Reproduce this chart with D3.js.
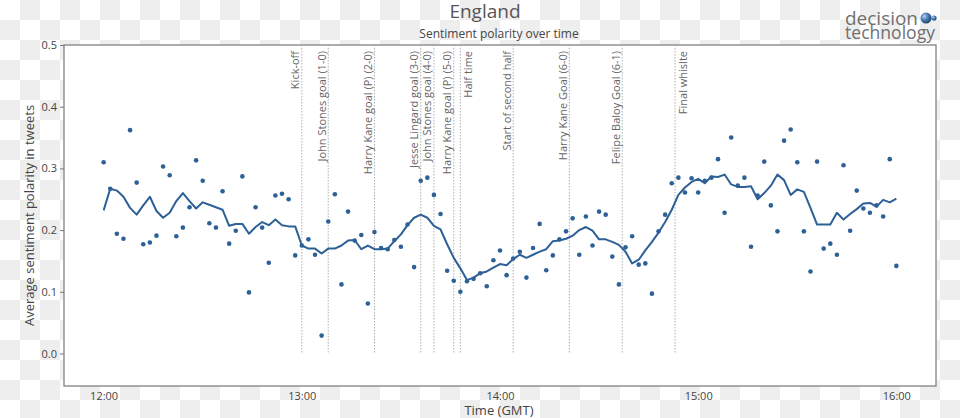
<!DOCTYPE html>
<html><head><meta charset="utf-8">
<script src="https://cdn.jsdelivr.net/npm/d3@7"></script>
<style>body{margin:0;background:#fff;} svg{display:block;} text{font-family:"Open Sans",sans-serif;}</style>
</head><body>
<svg id="chart" width="960" height="418"></svg>
<script>
const times = ("12:00 12:02 12:04 12:06 12:08 12:10 12:12 12:14 12:16 12:18 12:20 12:22 12:24 12:26 12:28 12:30 12:32 12:34 12:36 12:38 12:40 12:42 12:44 12:46 12:48 12:50 12:52 12:54 12:56 12:58 " +
  "13:00 13:02 13:04 13:06 13:08 13:10 13:12 13:14 13:16 13:18 13:20 13:22 13:24 13:26 13:28 13:30 13:32 13:34 13:36 13:38 13:40 13:42 13:44 13:46 13:48 13:50 13:52 13:54 13:56 13:58 " +
  "14:00 14:02 14:04 14:06 14:08 14:10 14:12 14:14 14:16 14:18 14:20 14:22 14:24 14:26 14:28 14:30 14:32 14:34 14:36 14:38 14:40 14:42 14:44 14:46 14:48 14:50 14:52 14:54 14:56 14:58 " +
  "15:00 15:02 15:04 15:06 15:08 15:10 15:12 15:14 15:16 15:18 15:20 15:22 15:24 15:26 15:28 15:30 15:32 15:34 15:36 15:38 15:40 15:42 15:44 15:46 15:48 15:50 15:52 15:54 15:56 15:58 16:00").split(" ");

const tweetSentiment = [
  0.310,0.267,0.194,0.186,0.362,0.277,0.177,0.180,0.191,0.303,
  0.289,0.190,0.204,0.237,0.313,0.280,0.211,0.204,0.263,0.178,
  0.199,0.287,0.099,0.237,0.204,0.147,0.256,0.259,0.250,0.159,
  0.175,0.185,0.160,0.029,0.214,0.258,0.112,0.230,0.183,0.192,
  0.081,0.197,0.171,0.169,0.184,0.173,0.209,0.140,0.280,0.285,
  0.257,0.226,0.134,0.118,0.100,0.117,0.121,0.130,0.109,0.151,
  0.167,0.127,0.154,0.165,0.123,0.171,0.210,0.135,0.159,0.185,
  0.198,0.219,0.160,0.222,0.175,0.230,0.225,0.157,0.112,0.172,
  0.190,0.144,0.146,0.097,0.198,0.225,0.276,0.285,0.261,0.284,
  0.261,0.280,0.285,0.315,0.228,0.350,0.272,0.285,0.173,0.256,
  0.311,0.240,0.198,0.345,0.363,0.310,0.198,0.133,0.311,0.170,
  0.178,0.160,0.305,0.199,0.264,0.235,0.228,0.240,0.222,0.315,
  0.142];

const rollingAverage = [
  0.232,0.267,0.264,0.254,0.236,0.225,0.240,0.254,0.231,0.220,
  0.228,0.247,0.260,0.247,0.235,0.245,0.241,0.237,0.233,0.207,
  0.210,0.210,0.194,0.205,0.213,0.208,0.217,0.208,0.206,0.206,
  0.175,0.170,0.170,0.162,0.170,0.170,0.175,0.183,0.184,0.169,
  0.175,0.169,0.169,0.170,0.182,0.193,0.208,0.220,0.225,0.220,
  0.207,0.201,0.177,0.155,0.138,0.119,0.123,0.130,0.133,0.139,
  0.145,0.143,0.153,0.160,0.155,0.160,0.165,0.169,0.182,0.183,
  0.186,0.191,0.200,0.205,0.199,0.185,0.185,0.181,0.176,0.165,
  0.146,0.152,0.167,0.181,0.196,0.213,0.233,0.257,0.269,0.278,
  0.283,0.276,0.287,0.286,0.290,0.274,0.270,0.270,0.271,0.250,
  0.260,0.272,0.290,0.281,0.257,0.266,0.262,0.236,0.209,0.209,
  0.209,0.228,0.217,0.226,0.234,0.243,0.244,0.238,0.249,0.245,
  0.251];

const eventTimes = ["13:00","13:08","13:22","13:36","13:40","13:46","13:48","14:04","14:21","14:37","14:53"];
const eventLabels = ["Kick-off","John Stones goal (1-0)","Harry Kane goal (P) (2-0)","Jesse Lingard goal (3-0)",
  "John Stones goal (4-0)","Harry Kane goal (P) (5-0)","Half time","Start of second half",
  "Harry Kane Goal (6-0)","Felipe Baloy Goal (6-1)","Final whislte"];

const xTickLabels = ["12:00","13:00","14:00","15:00","16:00"];
const yTickValues = [0, 0.1, 0.2, 0.3, 0.4, 0.5];
const xRange = ["11:48","16:12"];

const parse = s => { const [h, m] = s.split(":").map(Number); return new Date(2018, 5, 24, h, m); };

const svg = d3.select("#chart");
const L = 64, R = 936, T = 45, B = 386;
const COLOR = "#2d6097", TXT = "#444";

// checkerboard (transparent background)
const defs = svg.append("defs");
const pat = defs.append("pattern").attr("id","chk").attr("width",40).attr("height",40).attr("patternUnits","userSpaceOnUse");
pat.append("rect").attr("width",40).attr("height",40).attr("fill","#ffffff");
pat.append("rect").attr("x",20).attr("y",0).attr("width",20).attr("height",20).attr("fill","#eeeeee");
pat.append("rect").attr("x",0).attr("y",20).attr("width",20).attr("height",20).attr("fill","#eeeeee");
svg.append("rect").attr("width",960).attr("height",418).attr("fill","url(#chk)");

const x = d3.scaleTime().domain(xRange.map(parse)).range([L, R]);
const y = d3.scaleLinear().domain([-0.0527, 0.5]).range([B, T]);

svg.append("rect").attr("x",L).attr("y",T).attr("width",R-L).attr("height",B-T).attr("fill","#fff");

// axes
const yAxis = svg.append("g").attr("transform",`translate(${L},0)`)
  .call(d3.axisLeft(y).tickValues(yTickValues).tickSize(4).tickPadding(3).tickFormat(d3.format(".1f")));
yAxis.select(".domain").remove();
yAxis.selectAll("line").attr("stroke","#777");
yAxis.selectAll("text").attr("fill",TXT).attr("font-size",11).style("font-family","'Open Sans',sans-serif");

const xAxis = svg.append("g").attr("transform",`translate(0,${B})`)
  .call(d3.axisBottom(x).tickValues(xTickLabels.map(parse)).tickSize(0).tickPadding(6).tickFormat(d3.timeFormat("%H:%M")));
xAxis.select(".domain").remove();
xAxis.selectAll("text").attr("fill",TXT).attr("font-size",11).style("font-family","'Open Sans',sans-serif");

// border
svg.append("rect").attr("x",L).attr("y",T).attr("width",R-L).attr("height",B-T)
  .attr("fill","none").attr("stroke","#777").attr("stroke-width",1.2);

// event lines
const labelsRightOfLine = new Set(["Half time", "Final whislte"]);
const ev = svg.append("g");
eventTimes.forEach((t, i) => {
  const xp = x(parse(t));
  ev.append("line").attr("x1",xp).attr("x2",xp).attr("y1",y(0.5)).attr("y2",y(0))
    .attr("stroke","#b0b0b0").attr("stroke-width",1).attr("stroke-dasharray","1.5,1.5");
  const tx = labelsRightOfLine.has(eventLabels[i]) ? xp + 11.5 : xp - 2.7;
  ev.append("text").attr("transform",`translate(${tx},${T+6}) rotate(-90)`)
    .attr("text-anchor","end").attr("font-size",11).attr("fill","#666").text(eventLabels[i]);
});

// line
svg.append("path").datum(rollingAverage)
  .attr("fill","none").attr("stroke",COLOR).attr("stroke-width",2).attr("stroke-linejoin","round")
  .attr("d", d3.line().x((d,i) => x(parse(times[i]))).y(d => y(d)));

// points
svg.append("g").selectAll("circle").data(tweetSentiment).join("circle")
  .attr("cx",(d,i) => x(parse(times[i]))).attr("cy",d => y(d)).attr("r",2.3).attr("fill",COLOR);

// titles
svg.append("text").attr("x",485).attr("y",18).attr("text-anchor","middle").attr("font-size",19).attr("fill","#555").text("England");
svg.append("text").attr("x",499).attr("y",38).attr("text-anchor","middle").attr("font-size",12).attr("fill",TXT).text("Sentiment polarity over time");
svg.append("text").attr("x",499).attr("y",415).attr("text-anchor","middle").attr("font-size",13).attr("fill",TXT).text("Time (GMT)");
svg.append("text").attr("transform",`translate(34,${(T+B)/2}) rotate(-90)`).attr("text-anchor","middle")
  .attr("font-size",13).attr("fill",TXT).text("Average sentiment polarity in tweets");

// logo
const lg = svg.append("g");
const grad = defs.append("radialGradient").attr("id","sph").attr("cx","35%").attr("cy","35%").attr("r","70%");
grad.append("stop").attr("offset","0%").attr("stop-color","#b9d3ee");
grad.append("stop").attr("offset","45%").attr("stop-color","#4f82bb");
grad.append("stop").attr("offset","100%").attr("stop-color","#1d3d66");
lg.append("text").attr("x",845).attr("y",25).attr("font-size",18).attr("fill","#707070")
  .attr("textLength",73).attr("lengthAdjust","spacingAndGlyphs").text("decision");
lg.append("text").attr("x",845).attr("y",39).attr("font-size",18).attr("fill","#707070")
  .attr("textLength",90).attr("lengthAdjust","spacingAndGlyphs").text("technology");
lg.append("circle").attr("cx",926).attr("cy",18).attr("r",5.5).attr("fill","url(#sph)");
lg.append("circle").attr("cx",934).attr("cy",18).attr("r",2.6).attr("fill","url(#sph)");
</script>
</body></html>
